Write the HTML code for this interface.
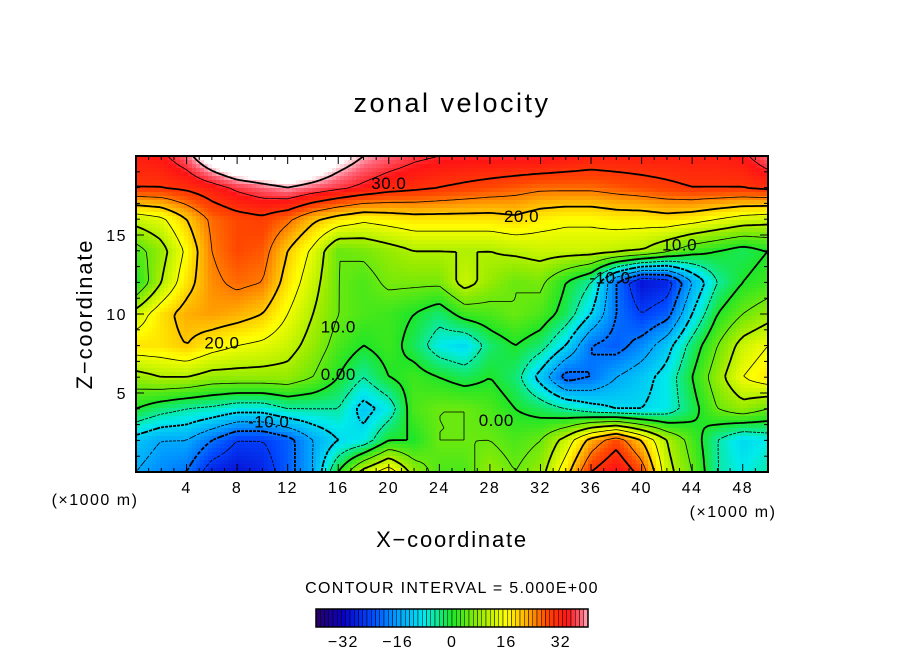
<!DOCTYPE html>
<html><head><meta charset="utf-8">
<style>
html,body{margin:0;padding:0;background:#fff;}
svg{display:block;font-family:"Liberation Sans","DejaVu Sans",sans-serif;}
</style></head>
<body>
<svg id="chart" width="904" height="654" viewBox="0 0 904 654" xmlns="http://www.w3.org/2000/svg">
<text x="452" y="112" text-anchor="middle" font-size="27" letter-spacing="2.5" fill="#000">zonal velocity</text>
<g id="field"></g>
<g id="contours"></g>
<g id="labels"></g>
<rect x="136" y="156" width="632" height="316" fill="none" stroke="#000" stroke-width="2"/>
<g id="axes"></g>
<text x="95" y="505" text-anchor="middle" font-size="16" letter-spacing="1.5">(×1000 m)</text>
<text x="733" y="517" text-anchor="middle" font-size="16" letter-spacing="1.5">(×1000 m)</text>
<text x="452" y="547" text-anchor="middle" font-size="22" letter-spacing="1.8">X−coordinate</text>
<text x="0" y="0" transform="translate(92,314) rotate(-90)" text-anchor="middle" font-size="22" letter-spacing="1.8">Z−coordinate</text>
<text x="452" y="593" text-anchor="middle" font-size="16" letter-spacing="1.3">CONTOUR INTERVAL = 5.000E+00</text>
<g id="cbar"></g>
</svg>
<script>
const NS="http://www.w3.org/2000/svg";
const xCoords=[0,2,4,6,8,10,12,14,16,18,20,22,24,26,28,30,32,34,36,38,40,42,44,46,48,50];
const zCoords=[0,2,4,6,8,10,12,14,16,18,20];
const u_z0 =[-15,-18,-20,-28,-30,-28,-22,-15,0,12,18,8,3,3,8,5,8,18,30,35,28,12,5,-5,-8,-5];
const u_z2 =[-12,-15,-15,-20,-25,-25,-22,-15,-10,-8,0,0,5,5,5,3,5,12,22,28,20,10,3,-5,-10,-8];
const u_z4 =[0,-3,-5,-6,-8,-8,-5,-5,-5,-12,-8,3,5,5,3,0,-2,-5,-8,-10,-10,-8,-2,5,8,5];
const u_z6 =[8,10,10,8,8,8,8,5,0,-5,0,2,0,-2,0,-3,-12,-22,-20,-15,-12,-8,0,8,15,18];
const u_z8 =[18,18,20,17,15,14,12,8,3,0,2,-2,-8,-10,-3,0,-3,-10,-20,-22,-18,-12,-3,5,12,15];
const u_z10=[12,18,22,23,22,20,15,10,5,3,2,0,-3,2,3,5,3,-2,-10,-20,-25,-22,-10,0,5,8];
const u_z12=[0,10,18,24,26,25,18,12,5,3,6,6,6,12,8,5,6,0,-5,-20,-30,-28,-15,-5,0,2];
const u_z14=[3,8,16,25,28,27,20,14,5,6,8,10,10,10,10,11,12,12,12,11,10,6,2,0,-2,0];
const u_z16=[12,14,20,26,28,29,26,21,18,16,17,18,18,18,18,19,17,16,16,17,17,18,17,15,13,12];
const u_z18=[30,30,31,33,36,38,40,38,36,34,32,31,30,29,28,27,26,26,26,27,28,29,30,30,30,31];
const u_z20=[33,34,38,46,52,54,54,50,44,40,38,36,35,35,35,35,35,34,33,33,33,33,33,33,34,38];
const rows=[u_z0,u_z2,u_z4,u_z6,u_z8,u_z10,u_z12,u_z14,u_z16,u_z18,u_z20];
const xTicks=[4,8,12,16,20,24,28,32,36,40,44,48];
const zTicks=[5,10,15];
const cbarTicks=[-32,-16,0,16,32];
const contourLabels=[
 {t:"30.0",x:20,z:18.3},{t:"20.0",x:30.5,z:16.2},{t:"20.0",x:6.8,z:8.2},
 {t:"10.0",x:16,z:9.2},{t:"0.00",x:16,z:6.2},{t:"-10.0",x:10.5,z:3.2},
 {t:"0.00",x:28.5,z:3.3},{t:"10.0",x:43,z:14.4},{t:"-10.0",x:37.5,z:12.3}];

const X0=136,X1=768,Y0=156,Y1=472;
function sx(x){return X0+(x-0)*(X1-X0)/50;}
function sz(z){return Y1-(z-0)*(Y1-Y0)/20;}
function val(x,z){
  let fi=Math.max(0,Math.min(xCoords.length-1.0001,x/2));
  let fj=Math.max(0,Math.min(zCoords.length-1.0001,z/2));
  let i=Math.floor(fi),j=Math.floor(fj),a=fi-i,b=fj-j;
  let v00=rows[j][i],v10=rows[j][i+1],v01=rows[j+1][i],v11=rows[j+1][i+1];
  return (1-a)*(1-b)*v00+a*(1-b)*v10+(1-a)*b*v01+a*b*v11;
}
const stops=[[-40,[40,0,100]],[-32,[10,0,200]],[-24,[0,70,255]],[-16,[0,160,255]],[-8,[0,235,235]],[0,[30,230,40]],[8,[150,235,0]],[16,[255,255,0]],[22,[255,175,0]],[28,[255,70,0]],[34,[255,20,20]],[38,[255,100,120]],[42,[255,255,255]]];
function color(v){
  if(v<=stops[0][0])return "rgb("+stops[0][1]+")";
  for(let k=1;k<stops.length;k++){
    if(v<=stops[k][0]){let [a,ca]=stops[k-1],[b,cb]=stops[k];let t=(v-a)/(b-a);
      return "rgb("+ca.map((c,i)=>Math.round(c+(cb[i]-c)*t)).join(",")+")";}
  }
  return "#fff";
}
const field=document.getElementById("field");
const STEP=4, NX=(X1-X0)/STEP, NZ=(Y1-Y0)/STEP;
for(let i=0;i<NX;i++)for(let j=0;j<NZ;j++){
  const px=X0+i*STEP,py=Y0+j*STEP;
  const x=(px+STEP/2-X0)/(X1-X0)*50, z=(Y1-(py+STEP/2))/(Y1-Y0)*20;
  const r=document.createElementNS(NS,"rect");
  
  
  r.setAttribute("x",px);r.setAttribute("y",py);r.setAttribute("width",STEP+0.5);r.setAttribute("height",STEP+0.5);
  r.setAttribute("fill",color(val(x,z)));field.appendChild(r);
}
const G=[];
for(let j=0;j<=NZ;j++){G.push([]);for(let i=0;i<=NX;i++){
  const x=(i*STEP)/(X1-X0)*50, z=(Y1-(Y0+j*STEP))/(Y1-Y0)*20; G[j].push(val(x,z));}}
const cg=document.getElementById("contours");
for(let L=-40;L<=40;L+=5){
  let d="";
  for(let j=0;j<NZ;j++)for(let i=0;i<NX;i++){
    const c=[[i,j,G[j][i]],[i+1,j,G[j][i+1]],[i+1,j+1,G[j+1][i+1]],[i,j+1,G[j+1][i]]];
    const pts=[];
    for(let e=0;e<4;e++){const p=c[e],q=c[(e+1)%4];
      if((p[2]<L)!==(q[2]<L)){const t=(L-p[2])/(q[2]-p[2]);
        pts.push([X0+(p[0]+(q[0]-p[0])*t)*STEP,Y0+(p[1]+(q[1]-p[1])*t)*STEP]);}}
    for(let k=0;k+1<pts.length;k+=2)d+="M"+pts[k][0].toFixed(1)+" "+pts[k][1].toFixed(1)+"L"+pts[k+1][0].toFixed(1)+" "+pts[k+1][1].toFixed(1);
  }
  if(!d)continue;
  const p=document.createElementNS(NS,"path");
  
  
  p.setAttribute("d",d);p.setAttribute("fill","none");p.setAttribute("stroke","#000");
  p.setAttribute("stroke-width",L%10===0?1.8:0.8);
  if(L<0)p.setAttribute("stroke-dasharray","3 2");
  cg.appendChild(p);
}
const lg=document.getElementById("labels");
contourLabels.forEach(o=>{
  const t=document.createElementNS(NS,"text");
  
  
  t.setAttribute("x",sx(o.x));t.setAttribute("y",sz(o.z)+6);t.setAttribute("text-anchor","middle");
  t.setAttribute("font-size","17");t.setAttribute("letter-spacing","0.5");t.textContent=o.t;lg.appendChild(t);
});
const ax=document.getElementById("axes");
function line(x1,y1,x2,y2,name){const l=document.createElementNS(NS,"line");
  
  
  l.setAttribute("x1",x1);l.setAttribute("y1",y1);l.setAttribute("x2",x2);l.setAttribute("y2",y2);
  l.setAttribute("stroke","#000");l.setAttribute("stroke-width","1");ax.appendChild(l);}
function txt(x,y,s,anchor,name){const t=document.createElementNS(NS,"text");
  
  
  t.setAttribute("x",x);t.setAttribute("y",y);t.setAttribute("text-anchor",anchor);t.setAttribute("font-size","16");t.setAttribute("letter-spacing","1.5");t.textContent=s;ax.appendChild(t);}
for(let x=1;x<50;x++){const len=x%4===0?8:4;line(sx(x),Y1,sx(x),Y1-len,"x-tick");line(sx(x),Y0,sx(x),Y0+len,"x-tick-top");}
xTicks.forEach(x=>txt(sx(x),Y1+21,String(x),"middle","x-tick-label"));
for(let z=1;z<20;z++){const len=z%5===0?8:4;line(X0,sz(z),X0+len,sz(z),"z-tick");line(X1,sz(z),X1-len,sz(z),"z-tick-right");}
zTicks.forEach(z=>txt(X0-9,sz(z)+6,String(z),"end","z-tick-label"));
const cb=document.getElementById("cbar");
const CB0=316,CB1=588,CBY=609,CBH=18,N=64;
function cx(v){return CB0+(v+40)/80*(CB1-CB0);}
for(let k=0;k<N;k++){const v0=-40+k*80/N,v1=v0+80/N;
  const r=document.createElementNS(NS,"rect");
  
  
  r.setAttribute("x",cx(v0));r.setAttribute("y",CBY);r.setAttribute("width",cx(v1)-cx(v0));r.setAttribute("height",CBH);
  r.setAttribute("fill",color((v0+v1)/2));r.setAttribute("stroke","#000");r.setAttribute("stroke-width","0.5");cb.appendChild(r);}
const fr=document.createElementNS(NS,"rect");


fr.setAttribute("x",CB0);fr.setAttribute("y",CBY);fr.setAttribute("width",CB1-CB0);fr.setAttribute("height",CBH);
fr.setAttribute("fill","none");fr.setAttribute("stroke","#000");fr.setAttribute("stroke-width","1.5");cb.appendChild(fr);
cbarTicks.forEach(v=>{const t=document.createElementNS(NS,"text");
  
  
  t.setAttribute("x",cx(v));t.setAttribute("y",647);t.setAttribute("text-anchor","middle");t.setAttribute("font-size","16");t.setAttribute("letter-spacing","1.2");
  t.textContent=v<0?"−"+Math.abs(v):String(v);cb.appendChild(t);});
</script>
</body></html>
